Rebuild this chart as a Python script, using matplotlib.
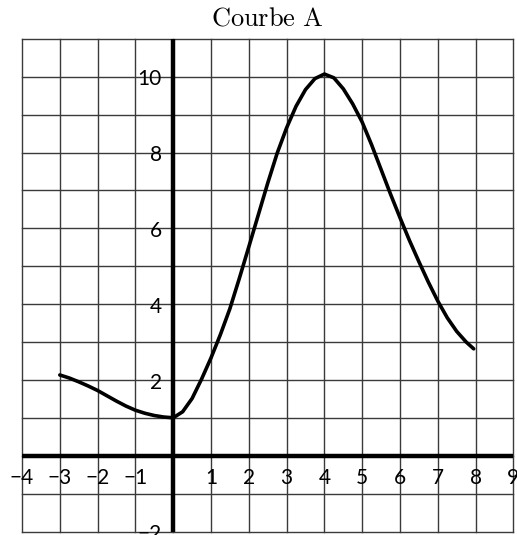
import matplotlib
matplotlib.use('Agg')
from matplotlib import pyplot as plt

# curve values
curve_x = [-3, -2.75, -2.5, -2.25, -2, -1.75, -1.5, -1.25, -1, -0.75, -0.5, -0.25, 0,
           0.25, 0.5, 0.75, 1, 1.25, 1.5, 1.75, 2, 2.25, 2.5, 2.75, 3, 3.25, 3.5, 3.75, 4,
           4.25, 4.5, 4.75, 5, 5.25, 5.5, 5.75, 6, 6.25, 6.5, 6.75, 7, 7.25, 7.5, 7.75, 7.95]
curve_y = [2.13, 2.05, 1.95, 1.84, 1.72, 1.58, 1.44, 1.31, 1.2, 1.12, 1.06, 1.02, 1.0,
           1.16, 1.51, 2.02, 2.58, 3.2, 3.88, 4.68, 5.51, 6.35, 7.19, 7.98, 8.65, 9.22, 9.66, 9.95, 10.07,
           9.97, 9.68, 9.28, 8.8, 8.2, 7.55, 6.9, 6.28, 5.68, 5.12, 4.58, 4.08, 3.64, 3.28, 3.0, 2.82]

x_ticks = [-4, -3, -2, -1, 1, 2, 3, 4, 5, 6, 7, 8, 9]
y_ticks = [-2, 2, 4, 6, 8, 10]
title = 'Courbe A'

plt.rcParams['mathtext.fontset'] = 'cm'

fig = plt.figure(figsize=(5.17, 5.35), dpi=100)
ax = fig.add_axes([22 / 517, 3.5 / 535, 491.4 / 517, 492.7 / 535])
ax.set_xlim(-4, 9)
ax.set_ylim(-2, 11)
ax.axis('off')

# grid
for gx in range(-4, 10):
  ax.axvline(gx, color='#3a3a3a', lw=1.0, clip_on=False, zorder=1)
for gy in range(-2, 12):
  ax.axhline(gy, color='#3a3a3a', lw=1.0, clip_on=False, zorder=1)

# axes through origin
ax.axhline(0, color='black', lw=3.2, zorder=2)
ax.axvline(0, color='black', lw=3.2, zorder=2)

ax.plot(curve_x, curve_y, color='black', lw=2.6, zorder=3,
        solid_capstyle='round', solid_joinstyle='round')

for t in x_ticks:
  ax.text(t, -0.6, str(t).replace('-', '\u2212'), ha='center', va='center',
          fontsize=15, family='Lato', clip_on=False)
for t in y_ticks:
  ax.text(-0.3, t - 0.07, str(t).replace('-', '\u2212'), ha='right', va='center',
          fontsize=15, family='Lato', clip_on=False)

fig.text(267.5 / 517, 1 - 19 / 535, r'$\mathrm{' + title.replace(' ', r'\ ') + '}$',
         ha='center', va='center', fontsize=19)

plt.savefig('out.png', dpi=100)
